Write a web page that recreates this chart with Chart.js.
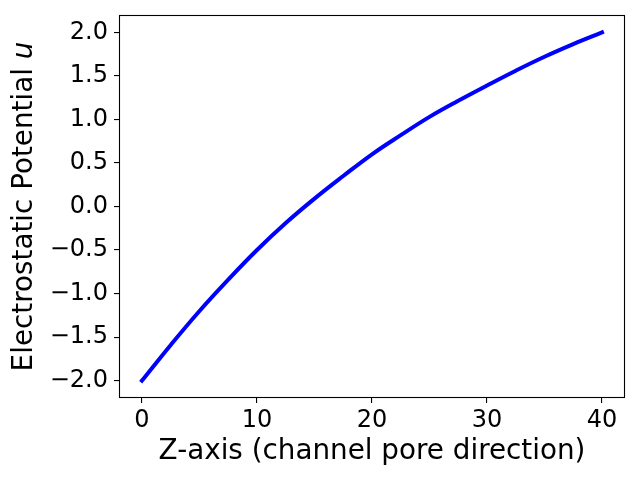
<!DOCTYPE html>
<html>
<head>
<meta charset="utf-8">
<script src="https://cdn.jsdelivr.net/npm/chart.js@4/dist/chart.umd.min.js"></script>
<style>
  html, body { margin: 0; padding: 0; background: #ffffff; }
  #wrap { width: 640px; height: 480px; }
</style>
</head>
<body>
<div id="wrap"><canvas id="c" width="640" height="480"></canvas></div>
<script>
// Data
const zValues = [0, 2.5, 5, 7.5, 10, 12.5, 15, 17.5, 20, 22.5, 25, 27.5, 30, 32.5, 35, 37.5, 40];
const uValues = [-2.00, -1.59, -1.20, -0.84, -0.50, -0.19, 0.09, 0.35, 0.60, 0.82, 1.03, 1.215, 1.39, 1.56, 1.72, 1.865, 2.00];
const xTicks = [0, 10, 20, 30, 40];
const yTicks = [-2.0, -1.5, -1.0, -0.5, 0.0, 0.5, 1.0, 1.5, 2.0];
const xLabel = 'Z-axis (channel pore direction)';
const yLabelMain = 'Electrostatic Potential ';
const yLabelVar = 'u';

const FONT = '"DejaVu Sans", sans-serif';
const TICK_SIZE = 24;
const LABEL_SIZE = 27.8;

const points = zValues.map((z, i) => ({ x: z, y: uValues[i] }));

const framePlugin = {
  id: 'frame',
  afterDraw(chart) {
    const { ctx, chartArea: a } = chart;
    ctx.save();
    ctx.strokeStyle = '#000000';
    ctx.lineWidth = 1.1;
    ctx.strokeRect(Math.round(a.left) + 0.5, Math.round(a.top) + 0.5,
                   Math.round(a.right - a.left) - 1, Math.round(a.bottom - a.top) - 1);
    // y-axis title with italic variable (mathtext style)
    const cy = (a.top + a.bottom) / 2;
    ctx.translate(25, cy);
    ctx.rotate(-Math.PI / 2);
    ctx.fillStyle = '#000000';
    ctx.textBaseline = 'middle';
    ctx.font = LABEL_SIZE + 'px ' + FONT;
    const w1 = ctx.measureText(yLabelMain).width;
    ctx.font = 'italic ' + LABEL_SIZE + 'px ' + FONT;
    const w2 = ctx.measureText(yLabelVar).width;
    const start = -(w1 + w2) / 2;
    ctx.textAlign = 'left';
    ctx.font = LABEL_SIZE + 'px ' + FONT;
    ctx.fillText(yLabelMain, start, 0);
    ctx.font = 'italic ' + LABEL_SIZE + 'px ' + FONT;
    ctx.fillText(yLabelVar, start + w1, 0);
    ctx.restore();
  }
};

const fmt = v => {
  const s = Number(v).toFixed(1);
  return s.replace('-', '\u2212');
};

new Chart(document.getElementById('c'), {
  type: 'scatter',
  data: {
    datasets: [{
      data: points,
      showLine: true,
      borderColor: '#0000ff',
      backgroundColor: '#0000ff',
      borderWidth: 4,
      borderCapStyle: 'square',
      pointRadius: 0,
      pointHoverRadius: 0,
      tension: 0.4,
      clip: false
    }]
  },
  options: {
    responsive: false,
    animation: false,
    events: [],
    layout: { padding: { top: 15, right: 15, left: 0, bottom: 0 } },
    plugins: {
      legend: { display: false },
      tooltip: { enabled: false }
    },
    scales: {
      x: {
        type: 'linear',
        min: -2,
        max: 42,
        afterBuildTicks: s => { s.ticks = xTicks.map(v => ({ value: v })); },
        afterFit: s => { s.height = 82; s.paddingLeft = 0; s.paddingRight = 0; },
        grid: { display: true, drawOnChartArea: false, drawTicks: true, tickLength: 5, color: '#000000', lineWidth: 1.1 },
        border: { display: false },
        ticks: {
          color: '#000000',
          padding: 3,
          maxRotation: 0,
          autoSkip: false,
          font: { family: FONT, size: TICK_SIZE },
          callback: v => String(v)
        },
        title: {
          display: true,
          text: xLabel,
          color: '#000000',
          font: { family: FONT, size: LABEL_SIZE },
          padding: { top: 0, bottom: 11.6 }
        }
      },
      y: {
        type: 'linear',
        min: -2.2,
        max: 2.2,
        afterBuildTicks: s => { s.ticks = yTicks.map(v => ({ value: v })); },
        afterFit: s => { s.width = 119; s.paddingTop = 0; s.paddingBottom = 0; },
        grid: { display: true, drawOnChartArea: false, drawTicks: true, tickLength: 5, color: '#000000', lineWidth: 1.1 },
        border: { display: false },
        ticks: {
          color: '#000000',
          padding: 6,
          autoSkip: false,
          font: { family: FONT, size: TICK_SIZE },
          callback: v => fmt(v)
        }
      }
    }
  },
  plugins: [framePlugin]
});
</script>
</body>
</html>
